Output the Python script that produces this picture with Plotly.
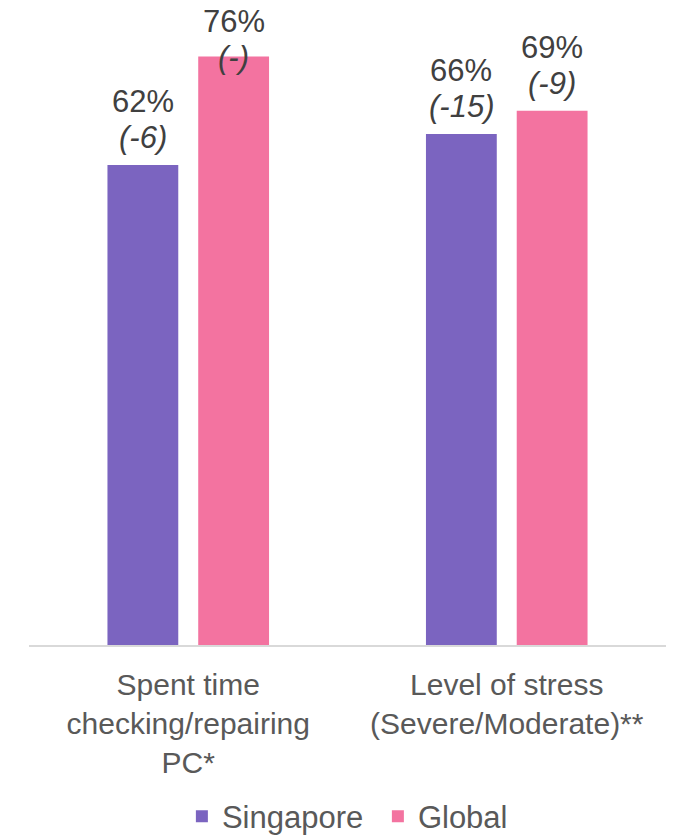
import plotly.graph_objects as go

categories = ["Spent time<br>checking/repairing<br>PC*", "Level of stress<br>(Severe/Moderate)**"]
singapore = [62, 66]
global_vals = [76, 69]
singapore_change = ["-6", "-15"]
global_change = ["-", "-9"]

purple = "#7B64C0"
pink = "#F373A0"
label_color = "#404040"
axis_text = "#595959"
FONT = "Liberation Sans, Arial, sans-serif"

W, H = 680, 835
M_L, M_R, M_T, M_B = 29, 14, 0, 190
Y_MAX = 83.3
BARGAP = 0.43
LABEL_SIZE = 31
LINE2_OFF = 27   # px from bar top to centre of the change line
LINE1_OFF = 63   # px from bar top to centre of the value line
TOP_LINE1 = 21   # clamped positions (px from top)
TOP_LINE2 = 57

fig = go.Figure()
fig.add_trace(go.Bar(x=categories, y=singapore, name="Singapore", marker_color=purple, marker_line_width=0))
fig.add_trace(go.Bar(x=categories, y=global_vals, name="Global", marker_color=pink, marker_line_width=0))

plot_h = H - M_T - M_B
px_per_unit = plot_h / Y_MAX
offset = (1 - BARGAP) / 4
annotations = []
lab_font = dict(size=LABEL_SIZE, color=label_color, family=FONT)
for series, changes, sgn in ((singapore, singapore_change, -1), (global_vals, global_change, 1)):
    for i, (v, c) in enumerate(zip(series, changes)):
        x = i + sgn * offset
        top_px = plot_h - v * px_per_unit  # distance of bar top from plot top
        if top_px - LINE1_OFF >= TOP_LINE1:
            for txt, off in ((f"{v}%", LINE1_OFF), (f"<i>({c})</i>", LINE2_OFF)):
                annotations.append(dict(x=x, y=v, xref="x", yref="y", text=txt, showarrow=False,
                                        yanchor="middle", yshift=off, font=lab_font))
        else:
            for txt, off in ((f"{v}%", TOP_LINE1), (f"<i>({c})</i>", TOP_LINE2)):
                annotations.append(dict(x=x, y=1, xref="x", yref="paper", text=txt, showarrow=False,
                                        yanchor="middle", yshift=-off, font=lab_font))

fig.update_layout(
    width=W, height=H,
    margin=dict(l=M_L, r=M_R, t=M_T, b=M_B),
    paper_bgcolor="white", plot_bgcolor="white",
    barmode="group", bargap=BARGAP, bargroupgap=0.22,
    font=dict(family=FONT, size=30, color=axis_text),
    showlegend=True,
    legend=dict(orientation="h", x=0.24, xanchor="left", yref="container", y=0.022, yanchor="middle",
                font=dict(size=31, color=axis_text), traceorder="normal", entrywidth=151),
    annotations=annotations,
)
fig.update_xaxes(showline=True, linecolor="#D9D9D9", linewidth=2, ticks="", showgrid=False,
                 tickfont=dict(size=30, color=axis_text), ticklabelstandoff=12)
fig.update_yaxes(range=[0, Y_MAX], visible=False, showgrid=False, zeroline=False)

fig.write_html("out.html")
